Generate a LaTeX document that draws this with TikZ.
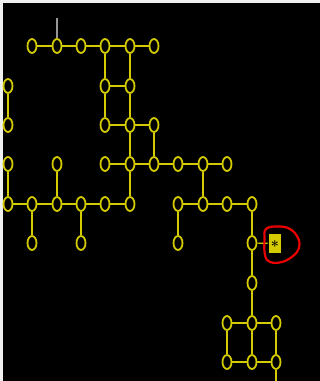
\documentclass[tikz,border=0pt]{standalone}
\usetikzlibrary{shapes.geometric}
\definecolor{ylw}{RGB}{212,204,0}
\definecolor{gry}{RGB}{150,150,150}
\definecolor{rd}{RGB}{235,0,0}
\begin{document}
\begin{tikzpicture}[x=1bp,y=-1bp,
  oo/.style={ellipse,draw=ylw,line width=1.8bp,minimum width=9bp,minimum height=14bp,inner sep=0pt},
  bond/.style={draw=ylw,line width=2bp},
  starbox/.style={fill=ylw,minimum width=12bp,minimum height=19bp,inner sep=0pt}]
\fill[white!94!black] (0,0) rectangle (320,381);
\fill[black] (3,3) rectangle (320,381);
\useasboundingbox (0,0) rectangle (320,381);
% column x positions: 0:8 1:32 2:57 3:81 4:105 5:130 6:154 7:178 8:203 9:227 10:252 11:276
\foreach \k/\x in {1/32,2/57,3/81,4/105,5/130,6/154} \node[oo] (n1-\k) at (\x,46) {};
\foreach \k/\x in {0/8,4/105,5/130} \node[oo] (n2-\k) at (\x,86) {};
\foreach \k/\x in {0/8,4/105,5/130,6/154} \node[oo] (n3-\k) at (\x,125) {};
\foreach \k/\x in {0/8,2/57,4/105,5/130,6/154,7/178,8/203,9/227} \node[oo] (n4-\k) at (\x,164) {};
\foreach \k/\x in {0/8,1/32,2/57,3/81,4/105,5/130,7/178,8/203,9/227,10/252} \node[oo] (n5-\k) at (\x,204) {};
\foreach \k/\x in {1/32,3/81,7/178,10/252} \node[oo] (n6-\k) at (\x,243) {};
\foreach \k/\x in {10/252} \node[oo] (n7-\k) at (\x,283) {};
\foreach \k/\x in {9/227,10/252,11/276} \node[oo] (n8-\k) at (\x,323) {};
\foreach \k/\x in {9/227,10/252,11/276} \node[oo] (n9-\k) at (\x,362) {};
\node[starbox] (st) at (275,243.5) {};
\node[font=\Large\bfseries,text=black,yshift=-2.5pt] (sx) at (st.center) {*};
\coordinate (g) at (57,18);
\coordinate (bt) at (276,381);
% horizontal bonds
\foreach \r/\a/\b in {1/1/2,1/2/3,1/3/4,1/4/5,1/5/6,2/4/5,3/4/5,3/5/6,
  4/4/5,4/5/6,4/6/7,4/7/8,4/8/9,5/0/1,5/1/2,5/2/3,5/3/4,5/4/5,
  5/7/8,5/8/9,5/9/10,8/9/10,8/10/11,9/9/10,9/10/11}
  \draw[bond] (n\r-\a) -- (n\r-\b);
% vertical bonds
\foreach \r/\s/\k in {1/2/4,1/2/5,2/3/0,2/3/4,2/3/5,3/4/5,3/4/6,
  4/5/0,4/5/2,4/5/5,4/5/8,5/6/1,5/6/3,5/6/7,5/6/10,6/7/10,7/8/10,
  8/9/9,8/9/10,8/9/11}
  \draw[bond] (n\r-\k) -- (n\s-\k);
\draw[bond] (n9-11) -- (bt);
\draw[bond,line width=1.2bp] (n6-10) -- (st);
\draw[black,line width=0.9bp] (st.west) -- (sx);
\draw[gry,line width=2bp] (g) -- (n1-2);
% red loop
\draw[rd,line width=2.2bp] plot[smooth cycle,tension=0.7] coordinates
  {(266,229) (278,226.5) (290,229) (298,238) (299,248) (293,256) (282,262) (270,262) (265,255) (264.5,240)};
\end{tikzpicture}
\end{document}
